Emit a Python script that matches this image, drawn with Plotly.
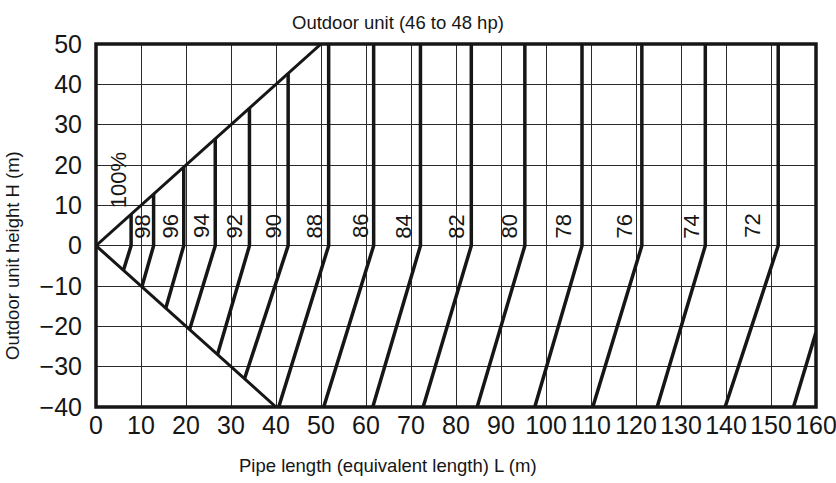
import plotly.graph_objects as go

# Capacity-correction chart: outdoor unit height vs. equivalent pipe length
labels = ["100%", "98", "96", "94", "92", "90", "88", "86", "84", "82",
          "80", "78", "76", "74", "72"]
# L position of each vertical segment (m) and where it starts at the top
vertical_L = [7.8, 12.8, 19.5, 26.5, 34.1, 42.7, 51.7, 61.7, 72.1, 83.4,
              95.3, 108.0, 121.3, 135.4, 151.6]
vertical_top = [7.8, 12.8, 19.5, 26.5, 34.1, 42.7, 50, 50, 50, 50,
                50, 50, 50, 50, 50]
# lower end of each slanted segment below H = 0
slant_end_x = [6.1, 10.2, 15.5, 20.8, 27.0, 33.0, 40.6, 50.6, 61.5, 72.7,
               84.7, 97.5, 110.4, 124.7, 139.8]
slant_end_y = [-6.1, -10.2, -15.5, -20.8, -27.0, -33.0, -40, -40, -40, -40,
               -40, -40, -40, -40, -40]
# label centres
label_x = [5.2, 10.3, 16.5, 23.5, 30.7, 39.4, 48.5, 58.8, 68.3, 80.1,
           91.8, 103.8, 117.4, 132.3, 145.9]
label_y = [16.3, 4.8, 4.8, 4.8, 4.8, 4.8, 4.8, 4.8, 4.8, 4.8,
           4.8, 4.8, 4.8, 4.8, 4.8]
# partial line entering at the right edge
tail_x = [160.0, 155.0]
tail_y = [-21.5, -40.0]
# boundary of the allowed region
upper_x, upper_y = [0, 50], [0, 50]
lower_x, lower_y = [0, 40], [0, -40]

x_ticks = list(range(0, 161, 10))
y_ticks = [50, 40, 30, 20, 10, 0, -10, -20, -30, -40]
y_tick_text = ["50", "40", "30", "20", "10", "0", "\u221210", "\u221220",
               "\u221230", "\u221240"]

INK = "#161616"
FONT = "Liberation Sans, Arial, Helvetica, sans-serif"

fig = go.Figure()

for bx, by in ((upper_x, upper_y), (lower_x, lower_y)):
    fig.add_trace(go.Scatter(x=bx, y=by, mode="lines",
                             line=dict(color=INK, width=3),
                             showlegend=False, hoverinfo="skip"))

for L, top, ex, ey in zip(vertical_L, vertical_top, slant_end_x, slant_end_y):
    fig.add_trace(go.Scatter(x=[L, L, ex], y=[top, 0, ey], mode="lines",
                             line=dict(color=INK, width=3.5),
                             showlegend=False, hoverinfo="skip"))

fig.add_trace(go.Scatter(x=tail_x, y=tail_y, mode="lines",
                         line=dict(color=INK, width=3.5),
                         showlegend=False, hoverinfo="skip"))

for txt, lx, ly in zip(labels, label_x, label_y):
    fig.add_annotation(x=lx, y=ly, text=txt, textangle=-90, showarrow=False,
                       xanchor="center", yanchor="middle",
                       font=dict(family=FONT, size=22, color=INK),
                       bgcolor="rgba(0,0,0,0)")

# plot frame
fig.add_shape(type="rect", xref="paper", yref="paper", x0=0, x1=1, y0=0, y1=1,
              line=dict(color=INK, width=3.5), layer="above")

# titles
fig.add_annotation(xref="paper", yref="paper", x=0.419, y=1.0606,
                   text="Outdoor unit (46 to 48 hp)", showarrow=False,
                   xanchor="center", yanchor="middle",
                   font=dict(family=FONT, size=18.5, color=INK))
fig.add_annotation(xref="paper", yref="paper", x=0.4056, y=-0.1625,
                   text="Pipe length (equivalent length) L (m)", showarrow=False,
                   xanchor="center", yanchor="middle",
                   font=dict(family=FONT, size=18.5, color=INK))
fig.add_annotation(xref="paper", yref="paper", x=-0.1167, y=0.4187,
                   text="Outdoor unit height H (m)", showarrow=False,
                   textangle=-90, xanchor="center", yanchor="middle",
                   font=dict(family=FONT, size=18.5, color=INK))

fig.update_xaxes(range=[0, 160], tickvals=x_ticks, showgrid=True,
                 gridcolor="#2a2a2a", gridwidth=1.4, zeroline=False,
                 showline=False, ticks="", ticklabelstandoff=1,
                 ticklabeloverflow="allow", automargin=False,
                 tickfont=dict(family=FONT, size=25, color=INK))
fig.update_yaxes(range=[-40, 50], tickvals=y_ticks, ticktext=y_tick_text,
                 showgrid=True, gridcolor="#2a2a2a", gridwidth=1.4,
                 zeroline=False, showline=False, ticks="",
                 ticklabelstandoff=13, ticklabeloverflow="allow",
                 automargin=False,
                 tickfont=dict(family=FONT, size=25, color=INK))

fig.update_layout(width=836, height=483, plot_bgcolor="white",
                  paper_bgcolor="white",
                  margin=dict(l=96, r=20, t=44, b=76, pad=0))

fig.write_html("out.html")
